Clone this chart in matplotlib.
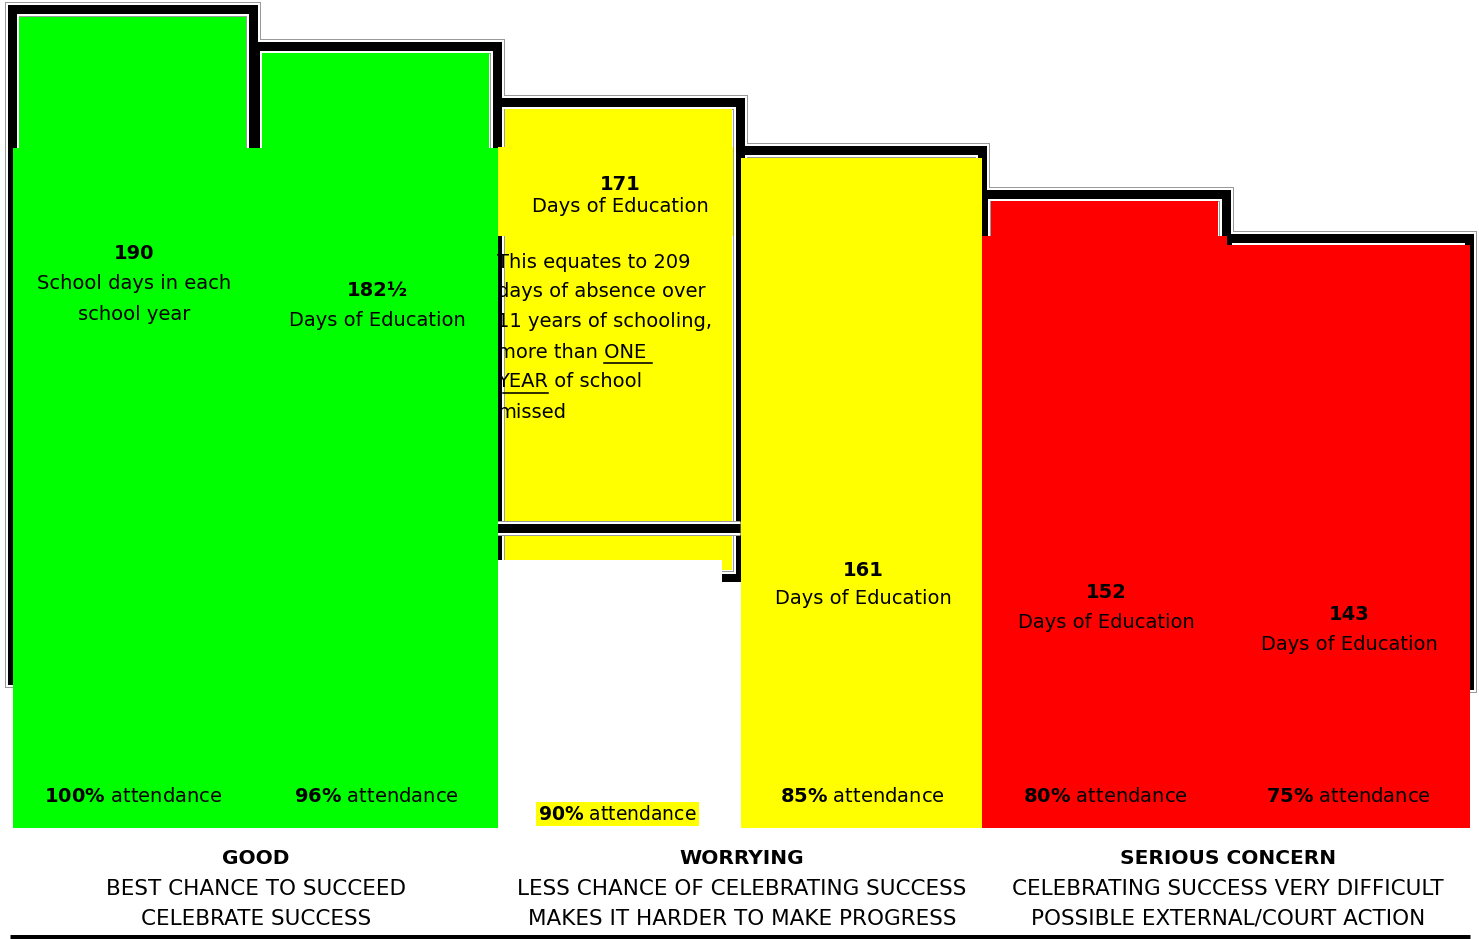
import numpy as np
import matplotlib.pyplot as plt
from matplotlib.patches import Rectangle

# ---------------------------------------------------------------------------
# data
# ---------------------------------------------------------------------------
days = [190, 182.5, 171, 161, 152, 143]
day_labels = ['190', '182½', '171', '161', '152', '143']
attendance = [100, 96, 90, 85, 80, 75]
captions = [['School days in each', 'school year'],
            ['Days of Education'], ['Days of Education'], ['Days of Education'],
            ['Days of Education'], ['Days of Education']]
note_lines = ['This equates to 209', 'days of absence over', '11 years of schooling,',
              'more than ONE ', 'YEAR of school', 'missed']
# (line, prefix before underline, underlined part)
note_underline = [(3, 'more than ', 'ONE '), (4, '', 'YEAR')]
bands = ['GOOD', 'WORRYING', 'SERIOUS CONCERN']
band_lines = [['BEST CHANCE TO SUCCEED', 'CELEBRATE SUCCESS'],
              ['LESS CHANCE OF CELEBRATING SUCCESS', 'MAKES IT HARDER TO MAKE PROGRESS'],
              ['CELEBRATING SUCCESS VERY DIFFICULT', 'POSSIBLE EXTERNAL/COURT ACTION']]

GREEN, YELLOW, RED = '#00ff00', '#ffff00', '#ff0000'
colours = [GREEN, GREEN, YELLOW, YELLOW, RED, RED]

# ---------------------------------------------------------------------------
# layout helpers (pixel -> data)
# ---------------------------------------------------------------------------
W, H = 1479, 939
SLOT = 243.0
XMIN = -0.5 - 13 / SLOT
XMAX = XMIN + W / SLOT
YMAX = 193.5

def dx(p): return p / SLOT
def dy(p): return p * YMAX / H
def X(p): return XMIN + p / SLOT
def Y(p): return YMAX * (1 - p / H)
def PT(p): return p * 0.72

frame_bottom_px = [680, 680, 578, 680, 680, 685]
label_y_px = [254, 291, 185, 570, 592, 615]
caption_gap_px = [30, 29, 22, 28, 30, 29]

plt.rcParams['font.family'] = 'DejaVu Sans'
fig = plt.figure(figsize=(W / 100, H / 100), dpi=100)
ax = fig.add_axes([0, 0, 1, 1])
ax.set_xlim(XMIN, XMAX)
ax.set_ylim(0, YMAX)
ax.axis('off')
renderer = fig.canvas.get_renderer()

idx = np.arange(len(days))
centers = idx - dx(2)
box_w = dx(227)
padx, pady = dx(7.5), dy(7.5)
fb = [Y(p) for p in frame_bottom_px]

# double-line frames: grey / white / black layers
for lw, col in [(15, '#9a9a9a'), (13, 'white'), (9, 'black')]:
    ax.bar(centers, [d + pady - b for d, b in zip(days, fb)], bottom=fb,
           width=box_w + 2 * padx, fill=False, edgecolor=col, linewidth=PT(lw), zorder=1)

# inner coloured boxes
ax.bar(centers, [d - (b + pady) for d, b in zip(days, fb)], bottom=[b + pady for b in fb],
       width=box_w, color=colours, edgecolor='none', zorder=2)

# divider inside the 171 box
for lw, col in [(15, '#9a9a9a'), (13, 'white'), (9, 'black')]:
    ax.plot([X(497.5), X(740.5)], [Y(528)] * 2, color=col, lw=PT(lw),
            solid_capstyle='butt', zorder=2.5)

# large colour blocks and white cut-outs
def block(x0, x1, y0, y1, col, z=3):
    ax.add_patch(Rectangle((X(x0), y0), X(x1) - X(x0), y1 - y0,
                           facecolor=col, edgecolor='none', zorder=z))

block(13, 498, Y(828), Y(148), GREEN)
block(498, 733, Y(236), Y(147), YELLOW)
block(741, 982, Y(828), days[3], YELLOW)
block(982, 1227, Y(828), Y(236), RED)
block(1227, 1470, Y(828), days[5], RED)
block(498, 722, Y(828), Y(560), 'white', 4)
block(722, 741, Y(828), Y(582), 'white', 4)

FS = 14
# value labels and captions
for i in idx:
    cx = X(13 + SLOT * i + SLOT / 2)
    yp = label_y_px[i]
    ax.text(cx, Y(yp), day_labels[i], ha='center', va='center', fontsize=FS,
            fontweight='bold', zorder=5)
    for k, line in enumerate(captions[i]):
        ax.text(cx, Y(yp + caption_gap_px[i] * (k + 1)), line, ha='center', va='center',
                fontsize=FS, zorder=5)

# note inside the 171 box
def text_width_px(s):
    if not s:
        return 0.0
    t = ax.text(0, 0, s, fontsize=FS)
    w = t.get_window_extent(renderer).width
    t.remove()
    return w

clip = Rectangle((X(503), 0), X(740) - X(503), YMAX, transform=ax.transData)
NOTE_X, NOTE_Y0, NOTE_DY = 497, 262, 30
for k, line in enumerate(note_lines):
    t = ax.text(X(NOTE_X), Y(NOTE_Y0 + NOTE_DY * k), line, ha='left', va='center',
                fontsize=FS, zorder=5)
    t.set_clip_path(clip)
for k, pre, part in note_underline:
    x0 = NOTE_X + text_width_px(pre)
    x1 = x0 + text_width_px(part)
    yl = Y(NOTE_Y0 + NOTE_DY * k + 11)
    ax.plot([X(max(x0, 503)), X(x1)], [yl, yl], color='black', lw=PT(1.6), zorder=5)

# attendance labels
for i in idx:
    cx = X(13 + SLOT * i + SLOT / 2)
    txt = r'$\mathbf{%d\%%}$ attendance' % attendance[i]
    if attendance[i] == 90:
        ax.text(cx - dx(3), Y(814), txt, ha='center', va='center', fontsize=13.5, zorder=5,
                bbox=dict(facecolor=YELLOW, edgecolor='none', pad=1.5))
    else:
        ax.text(cx - dx(1), Y(796), txt, ha='center', va='center', fontsize=FS, zorder=5)

# band descriptions under the chart
for j, name in enumerate(bands):
    cx = X(13 + SLOT * (2 * j + 1))
    ax.text(cx, Y(859), name, ha='center', va='center', fontsize=14.5, fontweight='bold',
            zorder=5)
    for k, line in enumerate(band_lines[j]):
        ax.text(cx, Y(889 + 30 * k), line, ha='center', va='center', fontsize=15.5, zorder=5)

ax.plot([X(10), X(1470)], [Y(936.5)] * 2, color='black', lw=PT(5), solid_capstyle='butt',
        zorder=5, clip_on=False)

fig.savefig('out.png', dpi=100)
